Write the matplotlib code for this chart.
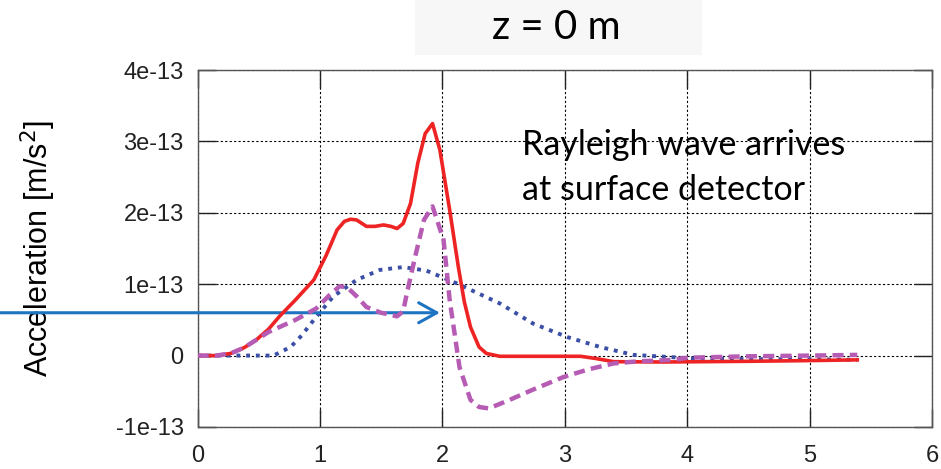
"""
Surface detector acceleration at z = 0 m
"""

import matplotlib
matplotlib.use('Agg')
import matplotlib.pyplot as plt
from matplotlib.patches import Rectangle

# Data (acceleration in units of 1e-13 m/s^2)
SCALE = 1e-13

red_t = [0, 0.15, 0.27, 0.38, 0.48, 0.58, 0.67, 0.8, 0.95, 1.05, 1.14, 1.2, 1.25,
         1.3, 1.38, 1.45, 1.52, 1.58, 1.63, 1.68, 1.74, 1.8, 1.86, 1.92, 1.98, 2.06,
         2.13, 2.18, 2.23, 2.3, 2.36, 2.47, 2.8, 3.13, 3.25, 3.4, 3.8, 4.5, 5.0, 5.39]
red_a = [0, 0, 0.03, 0.11, 0.22, 0.37, 0.55, 0.78, 1.06, 1.4, 1.76, 1.88, 1.91,
         1.9, 1.81, 1.81, 1.83, 1.81, 1.78, 1.85, 2.13, 2.7, 3.11, 3.25, 2.88, 2.04,
         1.25, 0.75, 0.40, 0.12, 0.03, -0.01, -0.01, -0.01, -0.04, -0.085, -0.09,
         -0.08, -0.07, -0.06]

mag_t = [0, 0.15, 0.27, 0.38, 0.48, 0.58, 0.67, 0.8, 0.97, 1.08, 1.16, 1.22, 1.3,
         1.38, 1.5, 1.63, 1.68, 1.71, 1.78, 1.85, 1.92, 2.01, 2.06, 2.14, 2.23, 2.3,
         2.38, 2.55, 2.75, 2.99, 3.2, 3.4, 3.6, 3.89, 4.0, 4.5, 5.0, 5.39]
mag_a = [0, 0, 0.03, 0.11, 0.22, 0.33, 0.40, 0.50, 0.66, 0.85, 0.97, 0.96, 0.83,
         0.68, 0.60, 0.55, 0.62, 0.87, 1.4, 1.90, 2.09, 1.62, 0.78, -0.16, -0.62,
         -0.72, -0.74, -0.62, -0.47, -0.30, -0.19, -0.11, -0.08, -0.06, -0.03,
         -0.01, 0.0, 0.01]

blue_t = [0, 0.62, 0.76, 0.85, 0.95, 1.11, 1.3, 1.49, 1.68, 1.87, 2.12, 2.47, 2.74,
          3.02, 3.29, 3.56, 4.05, 4.5, 5.0, 5.39]
blue_a = [0, 0, 0.12, 0.28, 0.50, 0.83, 1.06, 1.20, 1.24, 1.19, 1.01, 0.73, 0.45,
          0.26, 0.12, 0.01, -0.04, -0.05, -0.05, -0.06]

x_ticks = [0, 1, 2, 3, 4, 5, 6]
y_ticks = [-1, 0, 1, 2, 3, 4]
y_tick_labels = ['-1e-13', '0', '1e-13', '2e-13', '3e-13', '4e-13']

COLORS = {
    'red': '#ee2424',
    'magenta': '#b65cb4',
    'blue': '#3b4fa6',
    'arrow': '#1f74c2',
}

fig = plt.figure(figsize=(9.41, 4.69), dpi=100)
ax = fig.add_axes([0.2099, 0.0896, 0.7805, 0.7611])

ax.plot(blue_t, [v * SCALE for v in blue_a], color=COLORS['blue'], lw=2.8,
        linestyle=(0, (1.0, 1.5)), zorder=3)
ax.plot(red_t, [v * SCALE for v in red_a], color=COLORS['red'], lw=2.6, zorder=4)
ax.plot(mag_t, [v * SCALE for v in mag_a], color=COLORS['magenta'], lw=3.2,
        linestyle=(0, (2.5, 1.4)), zorder=5)

ax.set_xlim(0, 6)
ax.set_ylim(-1 * SCALE, 4 * SCALE)
ax.set_xticks(x_ticks)
ax.set_yticks([v * SCALE for v in y_ticks])
ax.set_yticklabels(y_tick_labels)
ax.tick_params(direction='in', length=13, width=1, top=True, right=True,
               labelsize=17, pad=10, colors='#222222')
ax.tick_params(axis='x', pad=13)
for lab in ax.get_xticklabels() + ax.get_yticklabels():
    lab.set_fontfamily('Liberation Sans')
for s in ax.spines.values():
    s.set_color('#555555')
    s.set_linewidth(1.0)

ax.grid(True, color='black', linestyle=(0, (2, 2)), linewidth=0.8)
ax.set_axisbelow(True)

ax.set_ylabel('Acceleration [m/s$^2$]', fontsize=22, family='Liberation Sans')
ax.yaxis.set_label_coords(-0.19, 0.5)

# Arrow from the left edge of the figure
ax.annotate('', xy=(1.98, 0.6 * SCALE), xytext=(-1.62, 0.6 * SCALE),
            arrowprops=dict(arrowstyle='->,head_length=0.65,head_width=0.36',
                            color=COLORS['arrow'], lw=2.2, mutation_scale=20,
                            shrinkA=0, shrinkB=0),
            annotation_clip=False)

fig.text(522 / 941, 1 - 155 / 469, 'Rayleigh wave arrives', fontsize=24.5,
         family='Lato', va='baseline', ha='left')
fig.text(522 / 941, 1 - 200 / 469, 'at surface detector', fontsize=24.5,
         family='Lato', va='baseline', ha='left')

# Title box
fig.patches.append(Rectangle((415 / 941, 1 - 55 / 469), 287 / 941, 55 / 469,
                             transform=fig.transFigure, facecolor='#f7f7f7',
                             edgecolor='none', zorder=0))
fig.text(0.591, 0.942, 'z = 0 m', fontsize=29, family='Lato', ha='center',
         va='center')

fig.savefig('out.png', dpi=100, facecolor='white')
